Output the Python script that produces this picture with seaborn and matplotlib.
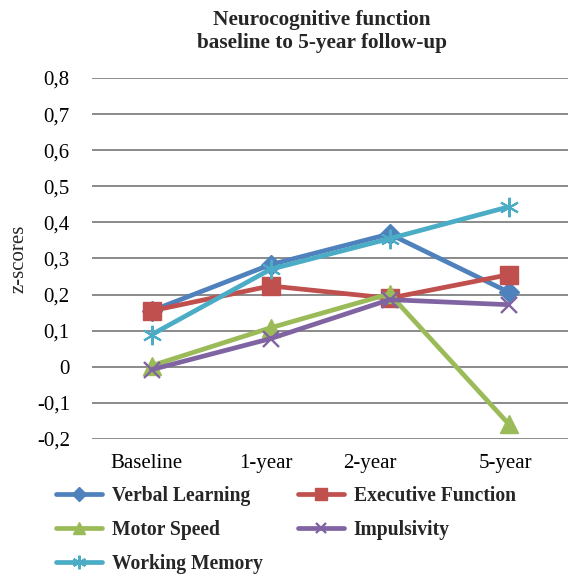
import matplotlib
matplotlib.use("Agg")
import matplotlib.pyplot as plt
import matplotlib.transforms as mtransforms
import seaborn as sns
import pandas as pd
from matplotlib.ticker import FuncFormatter, MultipleLocator

categories = ["Baseline", "1-year", "2-year", "5-year"]
verbal_learning = [0.155, 0.283, 0.368, 0.207]
executive_function = [0.155, 0.224, 0.190, 0.255]
motor_speed = [0.003, 0.108, 0.202, -0.158]
impulsivity = [-0.008, 0.078, 0.186, 0.172]
working_memory = [0.089, 0.270, 0.355, 0.443]

series = [
    ("Verbal Learning", verbal_learning, "#4F81BD", "D", 10.5, 1.0),
    ("Executive Function", executive_function, "#C0504D", "s", 12.5, 1.0),
    ("Motor Speed", motor_speed, "#9BBB59", "^", 12.5, 1.0),
    ("Impulsivity", impulsivity, "#8064A2", "x", 11, 1.7),
    ("Working Memory", working_memory, "#4BACC6", (6, 2, 0), 14, 1.5),
]

sns.set_theme(style="white")
plt.rcParams["font.family"] = ["Liberation Serif", "DejaVu Serif"]

fig = plt.figure(figsize=(5.69, 5.77), dpi=100)
ax = fig.add_axes([0.1617, 0.2392, 0.8366, 0.6256])

x = list(range(len(categories)))
for name, vals, color, marker, ms, mew in series:
    df = pd.DataFrame({"x": x, "y": vals})
    sns.lineplot(data=df, x="x", y="y", ax=ax, color=color, linewidth=3.4,
                 marker=marker, markersize=ms, markeredgewidth=mew,
                 markeredgecolor=color, label=name, legend=False)

ax.set_xlim(-0.5, 3.5)
ax.set_ylim(-0.2, 0.8)
ax.yaxis.set_major_locator(MultipleLocator(0.1))
ax.yaxis.set_major_formatter(FuncFormatter(
    lambda v, p: "0" if abs(v) < 1e-9 else f"{v:.1f}".replace(".", ",")))
ax.set_xticks(x)
ax.set_xticklabels(categories)
ax.tick_params(axis="both", labelsize=15, length=0, colors="#000000")
ax.tick_params(axis="y", pad=16)
ax.tick_params(axis="x", pad=11)
label_shift_px = [-5, -5, -20, -3]
for lbl, dx in zip(ax.get_xticklabels(), label_shift_px):
    off = mtransforms.ScaledTranslation(dx / 100, 0, fig.dpi_scale_trans)
    lbl.set_transform(lbl.get_transform() + off)
ax.grid(axis="y", color="#8a8a8a", linewidth=1.4)
ax.grid(axis="x", visible=False)
ax.set_axisbelow(True)
for s in ax.spines.values():
    s.set_visible(False)
ax.set_xlabel("")
ax.set_ylabel("z-scores", fontsize=15, labelpad=6)

fig.text(0.566, 0.945, "Neurocognitive function\nbaseline to 5-year follow-up",
         ha="center", va="center", fontsize=15.3, fontweight="bold", linespacing=1.22)

handles, labels = ax.get_legend_handles_labels()
order = [0, 2, 4, 1, 3]
leg = fig.legend([handles[i] for i in order], [labels[i] for i in order],
                 ncol=2, loc="upper left", bbox_to_anchor=(0.098, 0.158),
                 frameon=False, borderpad=0, borderaxespad=0,
                 prop={"weight": "bold", "size": 14.1}, handlelength=2.35,
                 columnspacing=1.8, labelspacing=0.72, handletextpad=0.5,
                 markerscale=0.7)

fig.savefig("out.png", dpi=100)
